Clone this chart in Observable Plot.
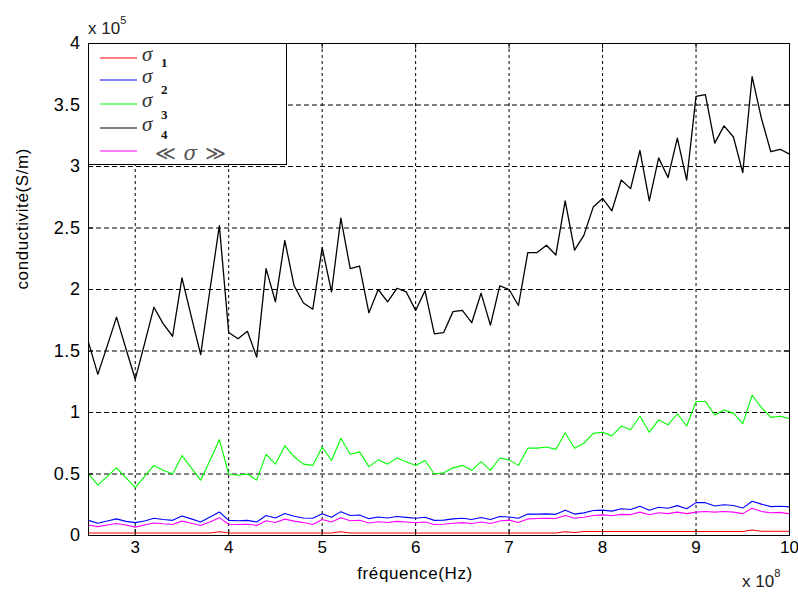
<!DOCTYPE html>
<html>
<head>
<meta charset="utf-8">
<script src="https://cdn.jsdelivr.net/npm/d3@7"></script>
<script src="https://cdn.jsdelivr.net/npm/@observablehq/plot@0.6"></script>
<style>
  body { margin: 0; background: white; }
  #wrap { position: relative; width: 798px; height: 593px; font-family: "Liberation Sans", Arial, sans-serif; }
  #legend { position: absolute; left: 88px; top: 43px; width: 199px; height: 122px; background: white; border: 1px solid black; box-sizing: border-box; }
  .exp { position: absolute; font-size: 17px; color: #222; }
  .exp sup { font-size: 11px; position: relative; top: -3px; }
  #wrap svg text { letter-spacing: 0.6px; }
  #wrap svg g[aria-label="x-axis tick label"] text { letter-spacing: 0; }
</style>
</head>
<body>
<div id="wrap"></div>
<script>
// frequency in units of 10^8 Hz
const freq = [2.5,2.6,2.7,2.8,2.9,3.0,3.1,3.2,3.3,3.4,3.5,3.6,3.7,3.8,3.9,4.0,4.1,4.2,4.3,4.4,4.5,4.6,4.7,4.8,4.9,5.0,5.1,5.2,5.3,5.4,5.5,5.6,5.7,5.8,5.9,6.0,6.1,6.2,6.3,6.4,6.5,6.6,6.7,6.8,6.9,7.0,7.1,7.2,7.3,7.4,7.5,7.6,7.7,7.8,7.9,8.0,8.1,8.2,8.3,8.4,8.5,8.6,8.7,8.8,8.9,9.0,9.1,9.2,9.3,9.4,9.5,9.6,9.7,9.8,9.9,10.0];

// conductivity in units of 10^5 S/m
const sigma1 = [0.02,0.02,0.02,0.02,0.02,0.02,0.02,0.02,0.02,0.02,0.02,0.02,0.02,0.02,0.03,0.02,0.02,0.02,0.02,0.02,0.02,0.02,0.02,0.02,0.02,0.02,0.02,0.03,0.02,0.02,0.02,0.02,0.02,0.02,0.02,0.02,0.02,0.02,0.02,0.02,0.02,0.02,0.02,0.02,0.02,0.02,0.02,0.02,0.02,0.02,0.02,0.03,0.025,0.033,0.033,0.033,0.033,0.033,0.033,0.033,0.033,0.033,0.033,0.033,0.033,0.033,0.033,0.033,0.033,0.033,0.033,0.045,0.035,0.035,0.035,0.035];

const sigma2 = [0.123,0.100,0.118,0.135,0.115,0.105,0.118,0.140,0.130,0.123,0.159,0.135,0.110,0.150,0.191,0.123,0.120,0.123,0.110,0.162,0.142,0.179,0.157,0.142,0.140,0.176,0.149,0.194,0.162,0.167,0.137,0.151,0.142,0.154,0.147,0.140,0.149,0.123,0.125,0.135,0.140,0.130,0.147,0.130,0.154,0.151,0.140,0.174,0.174,0.176,0.172,0.205,0.174,0.184,0.203,0.206,0.198,0.218,0.211,0.238,0.206,0.230,0.221,0.243,0.218,0.267,0.267,0.240,0.250,0.244,0.223,0.279,0.255,0.235,0.238,0.233];

const sigma3 = [0.50,0.41,0.48,0.55,0.47,0.39,0.48,0.57,0.53,0.50,0.65,0.55,0.45,0.61,0.78,0.50,0.49,0.50,0.45,0.66,0.58,0.73,0.64,0.58,0.57,0.72,0.61,0.79,0.66,0.68,0.56,0.615,0.58,0.63,0.60,0.57,0.61,0.50,0.51,0.55,0.57,0.53,0.60,0.53,0.63,0.615,0.57,0.71,0.71,0.72,0.70,0.835,0.71,0.75,0.83,0.84,0.81,0.89,0.86,0.97,0.84,0.94,0.90,0.99,0.89,1.09,1.09,0.98,1.02,0.995,0.91,1.14,1.04,0.96,0.97,0.95];

const sigma4 = [1.57,1.31,1.54,1.775,1.52,1.27,1.56,1.856,1.72,1.62,2.095,1.78,1.47,2.0,2.52,1.65,1.60,1.66,1.45,2.17,1.90,2.40,2.03,1.89,1.84,2.34,1.98,2.58,2.17,2.19,1.81,2.0,1.90,2.01,1.98,1.83,1.99,1.64,1.65,1.82,1.83,1.73,1.97,1.71,2.03,2.0,1.87,2.30,2.30,2.36,2.28,2.72,2.32,2.44,2.67,2.74,2.64,2.89,2.82,3.13,2.72,3.07,2.91,3.23,2.89,3.57,3.585,3.19,3.33,3.24,2.95,3.73,3.39,3.12,3.14,3.10];

const sigmaMean = [0.085,0.072,0.085,0.098,0.085,0.068,0.085,0.102,0.095,0.090,0.117,0.100,0.082,0.110,0.145,0.092,0.090,0.092,0.082,0.120,0.105,0.133,0.117,0.105,0.090,0.130,0.110,0.145,0.120,0.124,0.102,0.112,0.106,0.115,0.110,0.104,0.110,0.090,0.092,0.100,0.105,0.097,0.110,0.097,0.118,0.125,0.105,0.135,0.138,0.140,0.138,0.162,0.140,0.148,0.162,0.168,0.160,0.172,0.170,0.190,0.168,0.185,0.178,0.190,0.178,0.190,0.195,0.190,0.195,0.190,0.178,0.222,0.195,0.185,0.188,0.176];

const xTicks = [3,4,5,6,7,8,9,10];
const yTicks = [0,0.5,1,1.5,2,2.5,3,3.5,4];
const xGrid = [3,4,5,6,7,8,9];
const yGrid = [0.5,1,1.5,2,2.5,3,3.5];

const seriesNames = ["σ1","σ2","σ3","σ4","mean"];
const seriesColors = ["#ff0000","#0000ff","#00ff00","#000000","#ff00ff"];
const seriesValues = [sigma1, sigma2, sigma3, sigma4, sigmaMean];

const table = seriesValues.flatMap((vals, k) => vals.map((v, i) => ({f: freq[i], v, s: seriesNames[k]})));
const drawOrder = [0,1,2,3,4];

const chart = Plot.plot({
  width: 798,
  height: 593,
  marginLeft: 88,
  marginRight: 9,
  marginTop: 43,
  marginBottom: 58,
  style: {fontFamily: "'Liberation Sans', Arial, sans-serif", background: "white", color: "black"},
  x: {domain: [2.5, 10]},
  y: {domain: [0, 4]},
  marks: [
    Plot.ruleX(xGrid, {x: d => d, stroke: "black", strokeDasharray: "3,3", strokeWidth: 1}),
    Plot.ruleY(yGrid, {y: d => d, stroke: "black", strokeDasharray: "5,3", strokeWidth: 1}),
    ...drawOrder.map(k => Plot.line(table.filter(d => d.s === seriesNames[k]), {
      x: "f", y: "v", stroke: seriesColors[k], strokeWidth: k === 3 ? 1.3 : 1.1
    })),
    Plot.frame({stroke: "black", strokeWidth: 1}),
    Plot.ruleX(xTicks, {x: d => d, y1: 0, y2: 0.045, stroke: "black"}),
    Plot.ruleX(xTicks, {x: d => d, y1: 3.955, y2: 4, stroke: "black"}),
    Plot.ruleY(yTicks, {y: d => d, x1: 2.5, x2: 2.555, stroke: "black"}),
    Plot.ruleY(yTicks, {y: d => d, x1: 9.945, x2: 10, stroke: "black"}),
    Plot.axisX(xTicks, {tickSize: 0, tickPadding: 5, fontSize: 17, label: null, tickFormat: d => String(d)}),
    Plot.axisY(yTicks, {tickSize: 0, tickPadding: 8, fontSize: 18, label: null, tickFormat: d => String(d)}),
    Plot.text(["fréquence(Hz)"], {frameAnchor: "bottom", dx: -24, dy: 43, fontSize: 17, text: d => d}),
    Plot.text(["conductivité(S/m)"], {frameAnchor: "left", dx: -66, rotate: -90, fontSize: 17, text: d => d})
  ]
});

const wrap = document.getElementById("wrap");
wrap.appendChild(chart);

// legend
const legend = document.createElement("div");
legend.id = "legend";
const legendRows = [
  {color: seriesColors[0], sub: "1"},
  {color: seriesColors[1], sub: "2"},
  {color: seriesColors[2], sub: "3"},
  {color: seriesColors[3], sub: "4"},
  {color: seriesColors[4], sub: null}
];
const ns = "http://www.w3.org/2000/svg";
const lsvg = document.createElementNS(ns, "svg");
lsvg.setAttribute("width", "197");
lsvg.setAttribute("height", "120");
lsvg.style.position = "absolute";
lsvg.style.left = "0";
lsvg.style.top = "0";
lsvg.style.overflow = "visible";
const rowY = [14, 36, 60, 84, 107];
const subDy = [6, 11, 12, 8];
legendRows.forEach((r, i) => {
  const ln = document.createElementNS(ns, "line");
  ln.setAttribute("x1", 11); ln.setAttribute("x2", 48);
  ln.setAttribute("y1", rowY[i]); ln.setAttribute("y2", rowY[i]);
  ln.setAttribute("stroke", r.color); ln.setAttribute("stroke-width", 1.2);
  lsvg.appendChild(ln);
  if (r.sub) {
    const t = document.createElementNS(ns, "text");
    t.setAttribute("x", 53); t.setAttribute("y", rowY[i] + 3);
    t.setAttribute("font-family", "'Liberation Serif', 'DejaVu Serif', serif");
    t.setAttribute("font-style", "italic");
    t.setAttribute("font-size", "21");
    t.setAttribute("fill", "#333");
    t.textContent = "σ";
    lsvg.appendChild(t);
    const s = document.createElementNS(ns, "text");
    s.setAttribute("x", 72); s.setAttribute("y", rowY[i] + 3 + subDy[i]);
    s.setAttribute("font-family", "'Liberation Serif', serif");
    s.setAttribute("font-weight", "bold");
    s.setAttribute("font-size", "13");
    s.setAttribute("fill", "#111");
    s.textContent = r.sub;
    lsvg.appendChild(s);
  } else {
    const t = document.createElementNS(ns, "text");
    t.setAttribute("x", 66); t.setAttribute("y", rowY[i] + 9);
    t.setAttribute("font-family", "'DejaVu Serif', serif");
    t.setAttribute("font-size", "20");
    t.setAttribute("fill", "#555");
    t.textContent = "≪ ";
    const ts = document.createElementNS(ns, "tspan");
    ts.setAttribute("font-style", "italic");
    ts.textContent = "σ";
    t.appendChild(ts);
    const te = document.createElementNS(ns, "tspan");
    te.textContent = " ≫";
    t.appendChild(te);
    lsvg.appendChild(t);
  }
});
legend.appendChild(lsvg);
wrap.appendChild(legend);

// exponent labels
const e5 = document.createElement("div");
e5.className = "exp";
e5.style.left = "88px"; e5.style.top = "17px";
e5.innerHTML = "x 10<sup>5</sup>";
wrap.appendChild(e5);
const e8 = document.createElement("div");
e8.className = "exp";
e8.style.left = "742px"; e8.style.top = "570px";
e8.innerHTML = "x 10<sup>8</sup>";
wrap.appendChild(e8);
</script>
</body>
</html>
